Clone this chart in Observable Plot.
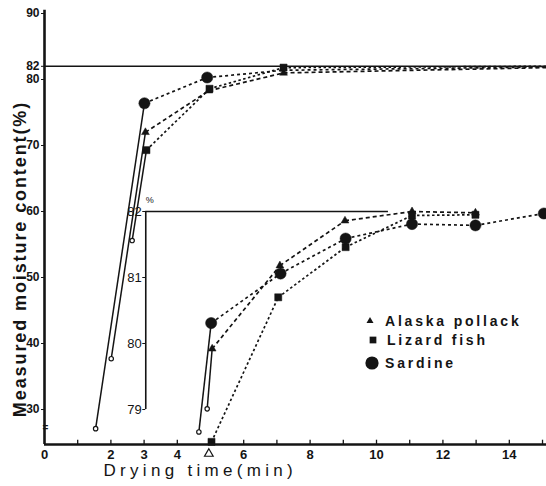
<!DOCTYPE html>
<html><head><meta charset="utf-8">
<script src="https://cdn.jsdelivr.net/npm/d3@7"></script>
<script src="https://cdn.jsdelivr.net/npm/@observablehq/plot@0.6"></script>
<style>
html,body{margin:0;padding:0;background:#fff;}
#wrap{position:relative;width:546px;height:486px;overflow:hidden;background:#fff;}
.leg{position:absolute;display:flex;align-items:center;font-family:"Liberation Sans",Arial,sans-serif;font-weight:bold;font-size:14px;letter-spacing:2.8px;color:#141414;white-space:nowrap;line-height:1;}
.leg svg{display:block;}
</style></head>
<body><div id="wrap"></div>
<script>
// ---- series ----
const names = ["Alaska pollack", "Lizard fish", "Sardine"];
const symbols = ["triangle", "square", "circle"];

// main curves, % moisture on the 0–90 scale
const pollackMainTime  = [2.01, 3.04, 4.95, 7.2, 15.12];
const pollackMainMoist = [37.7, 72.0, 78.3, 81.0, 81.8];
const pollackMainShown = [false, true, true, true, false];
const lizardMainTime   = [2.64, 3.07, 4.97, 7.2, 15.12];
const lizardMainMoist  = [55.6, 69.3, 78.6, 81.8, 82.0];
const lizardMainShown  = [false, true, true, true, false];
const sardineMainTime  = [1.54, 3.01, 4.9, 7.2, 15.12];
const sardineMainMoist = [27.1, 76.4, 80.3, 81.4, 81.9];
const sardineMainShown = [false, true, true, false, false];

// inset curves, % moisture on the 79–82 scale
const pollackInsetTime  = [4.9, 5.05, 7.09, 9.05, 11.07, 12.98];
const pollackInsetMoist = [79.01, 79.92, 81.18, 81.86, 82.0, 81.98];
const pollackInsetShown = [false, true, true, true, true, true];
const lizardInsetTime   = [5.03, 7.04, 9.07, 11.07, 12.98];
const lizardInsetMoist  = [78.51, 80.70, 81.46, 81.94, 81.95];
const lizardInsetShown  = [true, true, true, true, true];
const sardineInsetTime  = [4.65, 5.02, 7.11, 9.07, 11.07, 12.98, 15.04];
const sardineInsetMoist = [78.66, 80.31, 81.06, 81.59, 81.81, 81.79, 81.97];
const sardineInsetShown = [false, true, true, true, true, true, true];

// ---- axes ----
const xDomain = [0, 15.12];
const yDomain = [24.7, 90];
const yAxisTop = 90.5;
const yTicks = [30, 40, 50, 60, 70, 80, 82, 90];
const xTickLabels = [0, 2, 3, 4, 6, 8, 10, 12, 14];
const xMinorTicks = [1, 2, 3, 4, 5, 6, 7, 8, 9, 10, 11, 12, 13, 14, 15];
const saturationLine = [82];
const axisBreak = [27.2];
// inset axis: 82 % sits on main 60, 79 % on main 30
const insetTicks = [79, 80, 81, 82];
const insetAxisTime = [3.05];
const insetTopMain = 60, insetScale = 10, insetTop = 82;
const insetLineEnd = [10.36];
const offscaleMark = [{time: 4.95, moist: 78.33}];

const xTitle = "Drying time(min)";
const yTitle = "Measured moisture content(%)";

const ink = "#141414";
const font = "Liberation Sans, Arial, sans-serif";
const toMain = v => insetTopMain + (v - insetTop) * insetScale;
const rows = (t, m, shown, conv = d => d) => t.map((x, i) => ({x, y: conv(m[i]), shown: shown[i]}));

function curve(pts, {symbol, r, dash, startMark}) {
  const segs = d3.pairs(pts).map(([a, b], k) => ({x1: a.x, y1: a.y, x2: b.x, y2: b.y, solid: startMark && k === 0}));
  const out = [
    Plot.link(segs.filter(s => s.solid), {x1: "x1", y1: "y1", x2: "x2", y2: "y2", stroke: ink, strokeWidth: 1.5}),
    Plot.link(segs.filter(s => !s.solid), {x1: "x1", y1: "y1", x2: "x2", y2: "y2", stroke: ink, strokeWidth: 1.7, strokeDasharray: dash})
  ];
  if (startMark) out.push(Plot.dot([pts[0]], {x: "x", y: "y", r: 2.2, fill: "white", stroke: ink, strokeWidth: 1.2}));
  out.push(Plot.dot(pts.filter(p => p.shown), {x: "x", y: "y", symbol, r, fill: ink, stroke: ink, strokeWidth: 0.5}));
  return out;
}

const sty = {
  "Alaska pollack": {symbol: "triangle", r: 2.9, dash: "4,3"},
  "Lizard fish": {symbol: "square", r: 4, dash: "2.5,2.5"},
  "Sardine": {symbol: "circle", r: 5.6, dash: "3,3"}
};

const plot = Plot.plot({
  width: 546, height: 486,
  marginLeft: 44, marginRight: 0, marginTop: 13, marginBottom: 42,
  x: {domain: xDomain},
  y: {domain: yDomain},
  style: {fontFamily: font, background: "white", color: ink, overflow: "visible"},
  marks: [
    // saturation lines
    Plot.ruleY(saturationLine, {y: d => d, x1: xDomain[0], x2: xDomain[1], stroke: ink, strokeWidth: 1.5}),
    Plot.ruleY(insetTicks.slice(-1), {y: d => toMain(d), x1: insetAxisTime[0], x2: insetLineEnd[0], stroke: ink, strokeWidth: 1.5}),
    // inset axis
    Plot.ruleX(insetAxisTime, {x: d => d, y1: toMain(insetTicks[0]), y2: toMain(insetTicks[3]), stroke: ink, strokeWidth: 1.6}),
    Plot.ruleY(insetTicks, {y: d => toMain(d), x1: insetAxisTime[0] - 0.09, x2: insetAxisTime[0], stroke: ink, strokeWidth: 1}),
    Plot.text(insetTicks, {x: insetAxisTime[0], y: d => toMain(d), text: d => String(d), dx: -4, textAnchor: "end", fontSize: 13, fill: ink}),
    Plot.text(["%"], {x: insetAxisTime[0], y: toMain(insetTop), text: d => d, dx: 4, dy: -11, fontSize: 9, fill: ink}),
    // main curves
    ...curve(rows(pollackMainTime, pollackMainMoist, pollackMainShown), {...sty["Alaska pollack"], startMark: true}),
    ...curve(rows(lizardMainTime, lizardMainMoist, lizardMainShown), {...sty["Lizard fish"], startMark: true}),
    ...curve(rows(sardineMainTime, sardineMainMoist, sardineMainShown), {...sty["Sardine"], startMark: true}),
    // inset curves
    ...curve(rows(pollackInsetTime, pollackInsetMoist, pollackInsetShown, toMain), {...sty["Alaska pollack"], startMark: true}),
    ...curve(rows(lizardInsetTime, lizardInsetMoist, lizardInsetShown, toMain), {...sty["Lizard fish"], startMark: false}),
    ...curve(rows(sardineInsetTime, sardineInsetMoist, sardineInsetShown, toMain), {...sty["Sardine"], startMark: true}),
    Plot.dot(offscaleMark, {x: "time", y: d => toMain(d.moist), symbol: "triangle", r: 3.2, fill: "white", stroke: ink, strokeWidth: 1.2}),
    // main axes
    Plot.ruleX([0], {x: d => d, y1: yDomain[0], y2: yAxisTop, stroke: ink, strokeWidth: 2.6}),
    Plot.ruleY([yDomain[0]], {y: d => d, x1: xDomain[0], x2: xDomain[1], stroke: ink, strokeWidth: 2.6}),
    Plot.ruleX(xMinorTicks, {x: d => d, y1: yDomain[0], y2: yDomain[0] + 0.65, stroke: ink, strokeWidth: 1.3}),
    Plot.text(axisBreak, {x: 0, y: d => d, text: () => "=", dx: 1, fontSize: 10, fontWeight: "bold", fill: ink}),
    Plot.axisY(yTicks, {tickSize: 3, tickPadding: 2, fontSize: 12, fontWeight: "bold", label: null, fill: ink}),
    Plot.axisX(xTickLabels, {tickSize: 0, tickPadding: 5, fontSize: 13, fontWeight: "bold", label: null, fill: ink}),
    Plot.text([xTitle], {frameAnchor: "bottom-left", text: d => d, dx: 59, dy: 31, textAnchor: "start", fontSize: 17, fill: ink}),
    Plot.text([yTitle], {frameAnchor: "left", text: d => d, rotate: -90, dx: -24, dy: 30, textAnchor: "middle", fontSize: 18, fontWeight: "bold", fill: ink})
  ]
});

d3.select(plot).selectAll("text").each(function() {
  const t = this.textContent;
  if (t === yTitle) d3.select(this).style("letter-spacing", "1.9px");
  if (t === xTitle) d3.select(this).style("letter-spacing", "4.3px");
});

const wrap = document.getElementById("wrap");
wrap.appendChild(plot);

// legend
const legendRows = [
  {name: names[0], sym: symbols[0], left: 364, cy: 320.7, size: 12, r: 2.6},
  {name: names[1], sym: symbols[1], left: 366, cy: 340, size: 14, r: 3.8},
  {name: names[2], sym: symbols[2], left: 364, cy: 362.7, size: 16, r: 6.6}
];
const symMap = {triangle: d3.symbolTriangle, square: d3.symbolSquare, circle: d3.symbolCircle};
for (const row of legendRows) {
  const div = document.createElement("div");
  div.className = "leg";
  div.style.left = row.left + "px";
  div.style.top = (row.cy - 8) + "px";
  div.style.height = "16px";
  const s = row.size;
  const path = d3.symbol(symMap[row.sym], Math.PI * row.r * row.r)();
  div.innerHTML = `<svg width="${s}" height="16" style="margin-right:${21 - s}px"><path d="${path}" transform="translate(${s / 2},8)" fill="${ink}"/></svg><span>${row.name}</span>`;
  wrap.appendChild(div);
}
</script>
</body></html>
